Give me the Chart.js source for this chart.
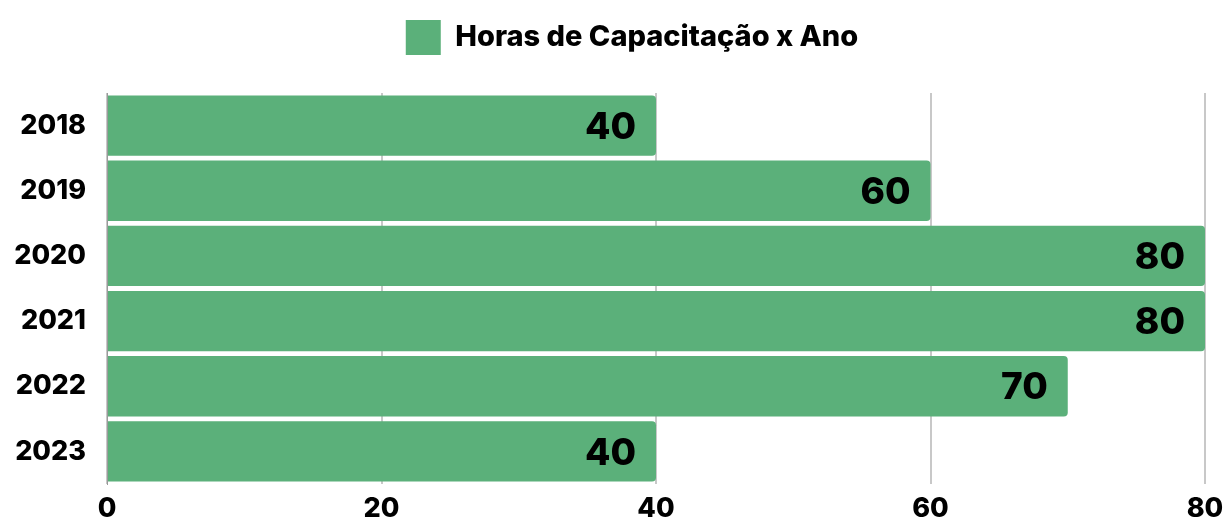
<!DOCTYPE html>
<html>
<head>
<meta charset="utf-8">
<script src="https://cdn.jsdelivr.net/npm/chart.js@4.4.1/dist/chart.umd.min.js"></script>
<style>
  html, body { margin: 0; padding: 0; background: #ffffff; }
  #wrap { width: 1226px; height: 523px; }
</style>
</head>
<body>
<div id="wrap"><canvas id="horas-chart"></canvas></div>
<script>
const years = ['2018', '2019', '2020', '2021', '2022', '2023'];
const hours = [40, 60, 80, 80, 70, 40];
const xTicks = [0, 20, 40, 60, 80];
const seriesLabel = 'Horas de Capacitação x Ano';

const fontFamily = 'Inter, "Open Sans", sans-serif';

// draws the value at the end of each bar
const barValues = {
    id: 'barValues',
    afterDatasetsDraw(chart) {
        const ctx = chart.ctx;
        const meta = chart.getDatasetMeta(0);
        ctx.save();
        ctx.font = '800 37px ' + fontFamily;
        ctx.fillStyle = '#000000';
        ctx.textAlign = 'right';
        ctx.textBaseline = 'middle';
        meta.data.forEach((bar, i) => {
            ctx.fillText(String(hours[i]), bar.x - 20, bar.y + 2);
        });
        ctx.restore();
    }
};

// legend takes a fixed height so the plot starts lower, and sits a bit right
const legendSpace = {
    id: 'legendSpace',
    beforeInit(chart) {
        const fit = chart.legend.fit;
        chart.legend.fit = function () {
            fit.bind(chart.legend)();
            this.height = 93;
        };
    },
    afterLayout(chart) {
        chart.legend.left = 40;
    }
};

function loadHorasChart() {
    const ctx = document.getElementById('horas-chart').getContext('2d');
    new Chart(ctx, {
        type: 'bar',
        data: {
            labels: years,
            datasets: [{
                label: seriesLabel,
                data: hours,
                backgroundColor: '#5bb07a',
                borderWidth: 0,
                borderRadius: 4,
                barPercentage: 0.925,
                categoryPercentage: 1.0
            }]
        },
        options: {
            indexAxis: 'y',
            responsive: true,
            maintainAspectRatio: false,
            animation: false,
            layout: { padding: { top: 0, right: 2, bottom: 0, left: 0 } },
            plugins: {
                legend: {
                    position: 'top',
                    labels: {
                        boxWidth: 35,
                        boxHeight: 35,
                        padding: 20,
                        color: '#000000',
                        font: { family: fontFamily, size: 29, weight: '800' }
                    }
                },
                tooltip: { enabled: false }
            },
            scales: {
                x: {
                    min: 0,
                    max: 80,
                    afterBuildTicks(axis) {
                        axis.ticks = xTicks.map(v => ({ value: v }));
                    },
                    afterFit(axis) {
                        axis.height = 39;
                        axis.paddingRight = 21;
                        axis.paddingLeft = 0;
                    },
                    grid: { color: '#c8c8c8', lineWidth: 2, drawTicks: false },
                    border: { display: false },
                    ticks: {
                        color: '#000000',
                        padding: 9,
                        font: { family: fontFamily, size: 27, weight: '800' }
                    }
                },
                y: {
                    afterFit(axis) {
                        axis.width = 107;
                        axis.paddingTop = 0;
                        axis.paddingBottom = 0;
                    },
                    grid: { display: false, drawTicks: false },
                    border: { display: true, color: '#9a9a9a', width: 1 },
                    ticks: {
                        color: '#000000',
                        padding: 21,
                        font: { family: fontFamily, size: 27, weight: '800' }
                    }
                }
            }
        },
        plugins: [barValues, legendSpace]
    });
}

window.addEventListener('load', () => {
    loadHorasChart();
});
</script>
</body>
</html>
